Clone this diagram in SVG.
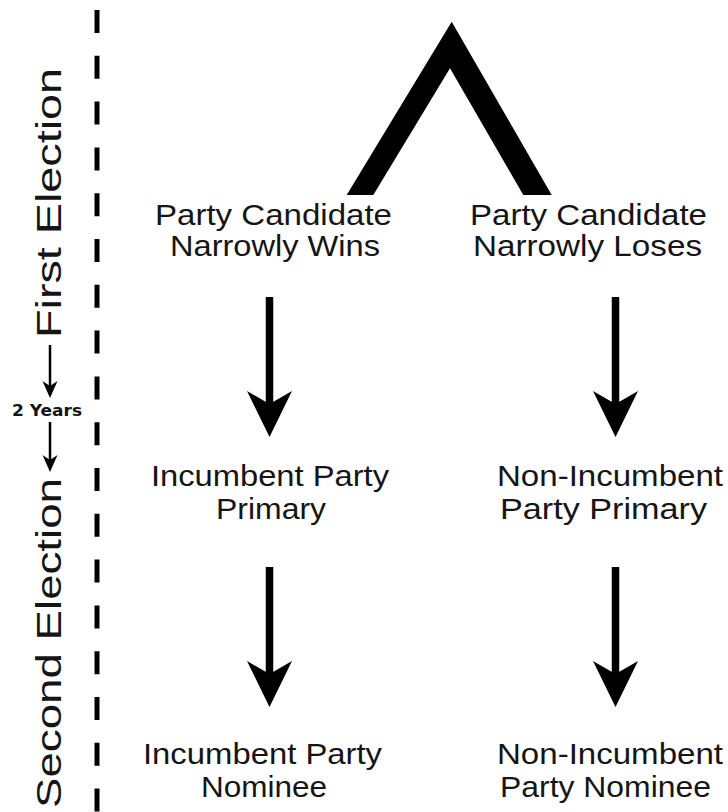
<svg xmlns="http://www.w3.org/2000/svg" width="728" height="812" viewBox="0 0 728 812">
<style>
.lbl{font-family:"Liberation Sans",Arial,sans-serif;font-size:29px;fill:#151515}
.vt{font-family:"Liberation Sans",Arial,sans-serif;font-size:35px;fill:#151515}
.yr{font-family:"DejaVu Sans","Liberation Sans",sans-serif;font-size:15px;font-weight:bold;fill:#151515}
.shaft{stroke:#000;stroke-width:7.5;fill:none}
.thin{stroke:#000;stroke-width:2.5;fill:none}
</style>
<defs>
<path id="head" d="M0,0 L-22.5,-46 L0,-33 L22.5,-46 Z" fill="#000"/>
<path id="shead" d="M0,0 L-7.5,-17 L0,-12 L7.5,-17 Z" fill="#000"/>
</defs>
<rect width="728" height="812" fill="#fff"/>

<g id="timeline">
<line x1="97" y1="10" x2="97" y2="812" stroke="#000" stroke-width="5" stroke-dasharray="23 22.8"/>
<text class="vt" transform="translate(61,338) rotate(-90)" textLength="270" lengthAdjust="spacingAndGlyphs">First Election</text>
<text class="vt" transform="translate(61,808) rotate(-90)" textLength="330" lengthAdjust="spacingAndGlyphs">Second Election</text>
<line class="thin" x1="50" y1="345" x2="50" y2="388"/>
<use href="#shead" x="50" y="398"/>
<text class="yr" x="12" y="416" textLength="70" lengthAdjust="spacingAndGlyphs">2 Years</text>
<line class="thin" x1="50" y1="422" x2="50" y2="462"/>
<use href="#shead" x="50" y="472"/>
</g>

<g id="connectors">
<polygon points="451.7,21.7 551.7,195 523.3,195 450,68.3 373.3,195 346.7,195" fill="#000"/>
<line class="shaft" x1="269.5" y1="297" x2="269.5" y2="410"/>
<use href="#head" x="269.5" y="437"/>
<line class="shaft" x1="615.5" y1="297" x2="615.5" y2="410"/>
<use href="#head" x="615.5" y="437"/>
<line class="shaft" x1="269.5" y1="567" x2="269.5" y2="680"/>
<use href="#head" x="269.5" y="707"/>
<line class="shaft" x1="615.5" y1="567" x2="615.5" y2="680"/>
<use href="#head" x="615.5" y="707"/>
</g>

<g id="wins">
<text class="lbl" x="155" y="225" textLength="237" lengthAdjust="spacingAndGlyphs">Party Candidate</text>
<text class="lbl" x="170" y="256" textLength="210" lengthAdjust="spacingAndGlyphs">Narrowly Wins</text>
</g>
<g id="loses">
<text class="lbl" x="470" y="225" textLength="237" lengthAdjust="spacingAndGlyphs">Party Candidate</text>
<text class="lbl" x="473" y="256" textLength="229" lengthAdjust="spacingAndGlyphs">Narrowly Loses</text>
</g>
<g id="inc-primary">
<text class="lbl" x="151" y="486" textLength="238" lengthAdjust="spacingAndGlyphs">Incumbent Party</text>
<text class="lbl" x="216" y="519" textLength="110" lengthAdjust="spacingAndGlyphs">Primary</text>
</g>
<g id="noninc-primary">
<text class="lbl" x="497" y="486" textLength="226" lengthAdjust="spacingAndGlyphs">Non-Incumbent</text>
<text class="lbl" x="500" y="519" textLength="207" lengthAdjust="spacingAndGlyphs">Party Primary</text>
</g>
<g id="inc-nominee">
<text class="lbl" x="143" y="764" textLength="239" lengthAdjust="spacingAndGlyphs">Incumbent Party</text>
<text class="lbl" x="201" y="797" textLength="126" lengthAdjust="spacingAndGlyphs">Nominee</text>
</g>
<g id="noninc-nominee">
<text class="lbl" x="497" y="764" textLength="226" lengthAdjust="spacingAndGlyphs">Non-Incumbent</text>
<text class="lbl" x="500" y="797" textLength="211" lengthAdjust="spacingAndGlyphs">Party Nominee</text>
</g>
</svg>
